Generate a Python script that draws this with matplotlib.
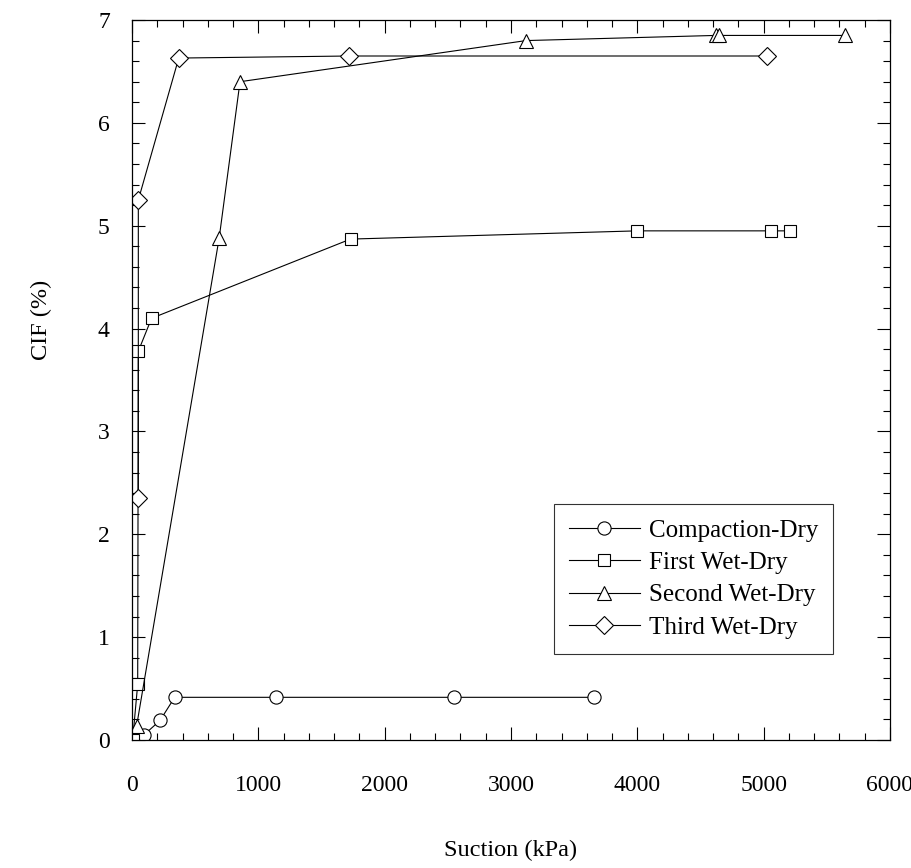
import matplotlib.pyplot as plt
from matplotlib.ticker import MultipleLocator

# Données (succion en kPa, CIF en %)
suction_comp = [95, 222, 338, 1140, 2545, 3660]
cif_comp = [0.05, 0.19, 0.415, 0.415, 0.415, 0.415]

suction_wd1 = [5, 45, 50, 155, 1730, 4000, 5060, 5210]
cif_wd1 = [0.0, 0.54, 3.78, 4.10, 4.87, 4.95, 4.95, 4.95]

suction_wd2 = [37, 690, 855, 3120, 4620, 4650, 5640]
cif_wd2 = [0.14, 4.88, 6.40, 6.80, 6.85, 6.85, 6.85]

suction_wd3 = [50, 50, 370, 1720, 5030]
cif_wd3 = [2.35, 5.25, 6.63, 6.65, 6.65]

plt.rcParams["font.family"] = ["Liberation Serif", "DejaVu Serif"]

fig = plt.figure(figsize=(9.12, 8.68), dpi=100)
ax = fig.add_axes([132 / 912, 1 - 740 / 868, (890 - 132) / 912, (740 - 20) / 868])

style = dict(color="black", linewidth=0.8, markerfacecolor="white",
             markeredgecolor="black", markeredgewidth=0.8)
ax.plot(suction_comp, cif_comp, marker="o", markersize=9.5,
        label="Compaction-Dry", **style)
ax.plot(suction_wd1, cif_wd1, marker="s", markersize=8.5,
        label="First Wet-Dry", **style)
ax.plot(suction_wd2, cif_wd2, marker="^", markersize=10,
        label="Second Wet-Dry", **style)
ax.plot(suction_wd3, cif_wd3, marker="D", markersize=9.5,
        label="Third Wet-Dry", **style)

ax.set_xlim(0, 6000)
ax.set_ylim(0, 7)
ax.xaxis.set_major_locator(MultipleLocator(1000))
ax.xaxis.set_minor_locator(MultipleLocator(200))
ax.yaxis.set_major_locator(MultipleLocator(1))
ax.yaxis.set_minor_locator(MultipleLocator(0.2))

ax.tick_params(which="both", direction="in", top=True, right=True,
               labelsize=17)
ax.tick_params(which="major", length=9.5, width=0.8)
ax.tick_params(which="minor", length=5, width=0.8)
ax.tick_params(axis="x", which="major", pad=25)
ax.tick_params(axis="y", which="major", pad=16)

for spine in ax.spines.values():
    spine.set_linewidth(0.9)

ax.set_xlabel("Suction (kPa)", fontsize=17.5, labelpad=32)
ax.set_ylabel("CIF (%)", fontsize=17.5)
ax.yaxis.set_label_coords(-0.105, 0.583)

leg = ax.legend(loc="lower right", bbox_to_anchor=(0.925, 0.12),
                fontsize=18, frameon=True, fancybox=False, edgecolor="black",
                handlelength=2.85, borderpad=0.6, labelspacing=0.39,
                handletextpad=0.35, borderaxespad=0)
leg.get_frame().set_linewidth(0.8)

fig.savefig("out.png", dpi=100)
